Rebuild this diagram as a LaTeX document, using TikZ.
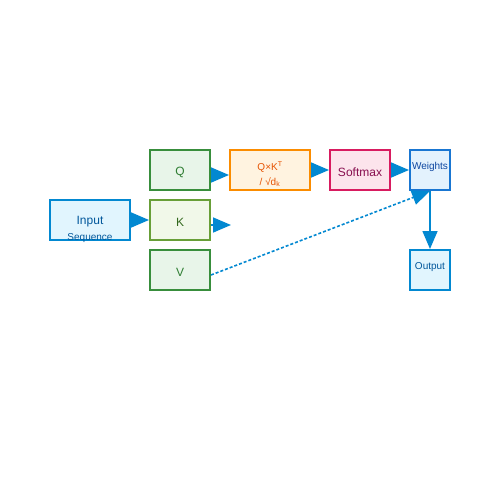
\documentclass[tikz,border=0pt]{standalone}
\usepackage{fontspec}
\setmainfont{Liberation Sans}
\usetikzlibrary{arrows.meta}
\definecolor{flow}{HTML}{0288D1}
\definecolor{inFill}{HTML}{E1F5FE}
\definecolor{qFill}{HTML}{E8F5E9}
\definecolor{qLine}{HTML}{388E3C}
\definecolor{qText}{HTML}{2E7D32}
\definecolor{kFill}{HTML}{F1F8E9}
\definecolor{kLine}{HTML}{689F38}
\definecolor{kText}{HTML}{33691E}
\definecolor{scFill}{HTML}{FFF3E0}
\definecolor{scLine}{HTML}{FB8C00}
\definecolor{scText}{HTML}{E65100}
\definecolor{smFill}{HTML}{FCE4EC}
\definecolor{smLine}{HTML}{D81B60}
\definecolor{smText}{HTML}{880E4F}
\definecolor{wFill}{HTML}{E3F2FD}
\definecolor{wLine}{HTML}{1976D2}
\definecolor{wText}{HTML}{0D47A1}
\definecolor{outText}{HTML}{01579B}
\tikzset{
  box/.style={draw, line width=2pt, inner sep=0pt},
  lbl/.style={inner sep=0pt, font=\fontsize{12}{12}\selectfont},
  small/.style={inner sep=0pt, font=\fontsize{10}{10}\selectfont},
  flowarrow/.style={draw=flow, line width=1.6pt, -{Triangle[length=18pt,width=15pt]}}
}
\begin{document}
\begin{tikzpicture}[x=1pt,y=-1pt]
				\useasboundingbox (0,0) rectangle (500,500);
				% boxes
				\node[box, draw=flow, fill=inFill, minimum width=80pt, minimum height=40pt] (input) at (90,220) {};
				\node[box, draw=qLine, fill=qFill, minimum width=60pt, minimum height=40pt] (q) at (180,170) {};
				\node[box, draw=kLine, fill=kFill, minimum width=60pt, minimum height=40pt] (k) at (180,220) {};
				\node[box, draw=qLine, fill=qFill, minimum width=60pt, minimum height=40pt] (v) at (180,270) {};
				\node[box, draw=scLine, fill=scFill, minimum width=80pt, minimum height=40pt] (score) at (270,170) {};
				\node[box, draw=smLine, fill=smFill, minimum width=60pt, minimum height=40pt] (softmax) at (360,170) {};
				\node[box, draw=wLine, fill=wFill, minimum width=40pt, minimum height=40pt] (weights) at (430,170) {};
				\node[box, draw=flow, fill=inFill, minimum width=40pt, minimum height=40pt] (output) at (430,270) {};
				% labels
				\node[lbl, text=outText] (inputA) at (90,222) {Input};
				\node[small, text=outText] (inputB) at (90,238) {Sequence};
				\node[lbl, text=qText] (qlbl) at (180,172) {Q};
				\node[lbl, text=kText] (klbl) at (180,222) {K};
				\node[lbl, text=qText] (vlbl) at (180,272) {V};
				\node[small, text=scText] (scoreA) at (270,167) {Q×K\textsuperscript{T}};
				\node[small, text=scText] (scoreB) at (270,182) {/ √d\textsubscript{k}};
				\node[lbl, text=smText] (smlbl) at (360,172) {Softmax};
				\node[small, text=wText] (wlbl) at (430,167) {Weights};
				\node[small, text=outText] (outlbl) at (430,267) {Output};
				% connectors
				\coordinate (kend) at (231,225);
				\draw[flowarrow] (input.east) -- (k.west);
				\draw[flowarrow] ([yshift=-5pt]q.east) -- ([yshift=-5pt]score.west);
				\draw[flowarrow] ([yshift=-5pt]k.east) -- (kend);
				\draw[flowarrow] (score.east) -- (softmax.west);
				\draw[flowarrow] (softmax.east) -- (weights.west);
				\draw[flowarrow] (weights.south) -- (output.north);
				\draw[flowarrow, dash pattern=on 3pt off 2pt] ([yshift=-5pt]v.east) -- (weights.south);
\end{tikzpicture}
\end{document}
